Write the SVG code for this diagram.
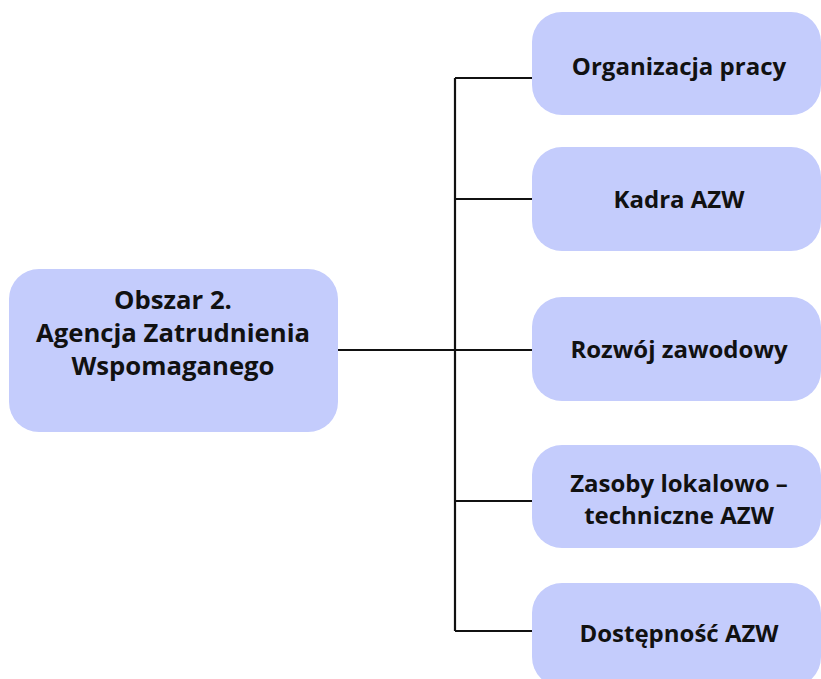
<svg xmlns="http://www.w3.org/2000/svg" width="821" height="679" viewBox="0 0 821 679">
<style>
.box{fill:#c4ccfc;}
.t{font-family:"Open Sans","Noto Sans","DejaVu Sans",sans-serif;font-weight:bold;fill:#111;text-anchor:middle;}
.lt{font-size:25.7px;}
.rt{font-size:24px;}
.c{fill:none;stroke:#111;stroke-width:2.2;}
</style>
<rect width="821" height="679" fill="#ffffff"/>
<g id="connectors">
<path class="c" d="M330 350 H532"/>
<path class="c" d="M455 78 V631"/>
<path class="c" d="M455 78 H533"/>
<path class="c" d="M455 199 H533"/>
<path class="c" d="M455 501 H533"/>
<path class="c" d="M455 631 H533"/>
</g>
<g id="main">
<rect class="box" x="9" y="269" width="329" height="163" rx="30"/>
<text class="t lt" x="173" y="309">Obszar 2.</text>
<text class="t lt" x="173" y="342">Agencja Zatrudnienia</text>
<text class="t lt" x="173" y="375">Wspomaganego</text>
</g>
<g id="n1">
<rect class="box" x="532" y="12" width="289" height="103" rx="30"/>
<text class="t rt" x="679" y="75">Organizacja pracy</text>
</g>
<g id="n2">
<rect class="box" x="532" y="147" width="289" height="104" rx="30"/>
<text class="t rt" x="679" y="208">Kadra AZW</text>
</g>
<g id="n3">
<rect class="box" x="532" y="297" width="289" height="104" rx="30"/>
<text class="t rt" x="679" y="358">Rozwój zawodowy</text>
</g>
<g id="n4">
<rect class="box" x="532" y="445" width="289" height="103" rx="30"/>
<text class="t rt" x="679" y="492">Zasoby lokalowo –</text>
<text class="t rt" x="679" y="524">techniczne AZW</text>
</g>
<g id="n5">
<rect class="box" x="532" y="583" width="289" height="104" rx="30"/>
<text class="t rt" x="679" y="642">Dostępność AZW</text>
</g>
</svg>
